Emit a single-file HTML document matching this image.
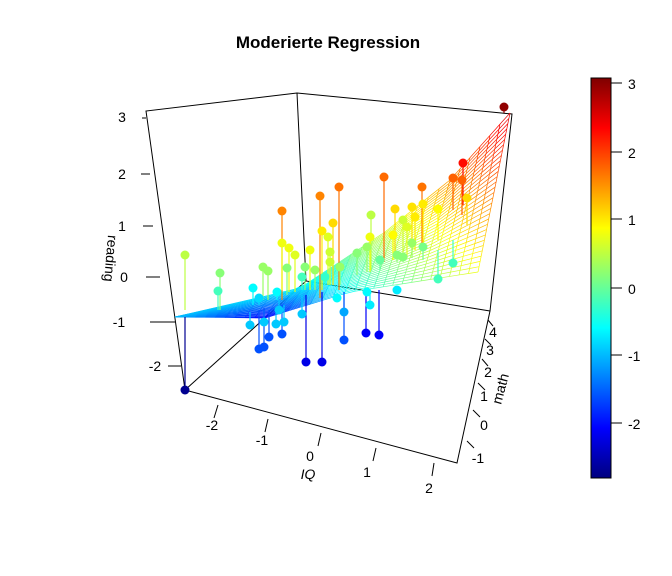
<!DOCTYPE html>
<html><head><meta charset="utf-8"><style>
body{margin:0;background:#fff;}
svg{display:block;font-family:"Liberation Sans",Arial,sans-serif;}
</style></head><body>
<svg id="s" width="672" height="576" viewBox="0 0 672 576" xmlns="http://www.w3.org/2000/svg">
<defs>
<linearGradient id="jet" x1="0" y1="1" x2="0" y2="0">
<stop offset="0" stop-color="#00007f"/>
<stop offset="0.125" stop-color="#0000ff"/>
<stop offset="0.375" stop-color="#00ffff"/>
<stop offset="0.5" stop-color="#7fff7f"/>
<stop offset="0.625" stop-color="#ffff00"/>
<stop offset="0.875" stop-color="#ff0000"/>
<stop offset="1" stop-color="#7f0000"/>
</linearGradient>
</defs>
<text x="328" y="48" font-size="17" font-weight="bold" text-anchor="middle">Moderierte Regression</text>
<g id="box" stroke="#000" stroke-width="1" fill="none">
<polyline points="185,390 146,111 297,93 512,114 490,311 457,463 185,390"/>
<polyline points="297,93 306,281 490,311"/>
<line x1="306" y1="281" x2="185" y2="390"/>
</g>
<g id="ticks" stroke="#000" stroke-width="1"></g>
<g id="surf" fill="none" stroke-width="0.7"></g>
<g id="pts"></g>
<g font-size="14" fill="#000">
<text x="122" y="122" text-anchor="middle">3</text>
<text x="122" y="179" text-anchor="middle">2</text>
<text x="122" y="231" text-anchor="middle">1</text>
<text x="124" y="282" text-anchor="middle">0</text>
<text x="119" y="327" text-anchor="middle">-1</text>
<text x="155" y="371" text-anchor="middle">-2</text>
<text x="106" y="258" transform="rotate(95 106 258)" text-anchor="middle" font-size="14">reading</text>
<text x="212" y="430" text-anchor="middle">-2</text>
<text x="262" y="445" text-anchor="middle">-1</text>
<text x="310" y="461" text-anchor="middle">0</text>
<text x="367" y="477" text-anchor="middle">1</text>
<text x="429" y="493" text-anchor="middle">2</text>
<text x="308" y="479" text-anchor="middle" font-style="italic">IQ</text>
<text x="493" y="337" text-anchor="middle">4</text>
<text x="490" y="355" text-anchor="middle">3</text>
<text x="488" y="377" text-anchor="middle">2</text>
<text x="484" y="401" text-anchor="middle">1</text>
<text x="484" y="430" text-anchor="middle">0</text>
<text x="478" y="463" text-anchor="middle">-1</text>
<text x="505" y="390" transform="rotate(-75 505 390)" text-anchor="middle">math</text>
</g>
<rect x="591" y="78" width="20" height="400" fill="url(#jet)" stroke="#000" stroke-width="1"/>
<g stroke="#000"><line x1="611" y1="83" x2="622" y2="83"/><line x1="611" y1="152" x2="622" y2="152"/><line x1="611" y1="219" x2="622" y2="219"/><line x1="611" y1="288" x2="622" y2="288"/><line x1="611" y1="355" x2="622" y2="355"/><line x1="611" y1="423" x2="622" y2="423"/></g>
<g font-size="14"><text x="628" y="89">3</text><text x="628" y="158">2</text><text x="628" y="225">1</text><text x="628" y="294">0</text><text x="628" y="361">-1</text><text x="628" y="429">-2</text></g>
</svg>
<script>
var NS="http://www.w3.org/2000/svg";
function jet(v){var t=(v+2.8)/5.9;t=Math.max(0,Math.min(1,t));
var r=Math.min(4*t-1.5,-4*t+4.5),g=Math.min(4*t-0.5,-4*t+3.5),b=Math.min(4*t+0.5,-4*t+2.5);
function c(x){return Math.round(255*Math.max(0,Math.min(1,x)));}
return "rgb("+c(r)+","+c(g)+","+c(b)+")";}
function el(p,n,a){var e=document.createElementNS(NS,n);for(var k in a)e.setAttribute(k,a[k]);document.getElementById(p).appendChild(e);return e;}
var rt=[[142,118,146,118],[141,174,150,174],[143,226,153,226],[146,277,160,277],[150,322,175,322],[168,366,181,366]];
rt.forEach(function(t){el("ticks","line",{x1:t[0],y1:t[1],x2:t[2],y2:t[3]});});
[[218,405,214,418],[268,419,265,432],[321,433,318,446],[376,448,373,461],[434,463,432,476]].forEach(function(t){el("ticks","line",{x1:t[0],y1:t[1],x2:t[2],y2:t[3]});});
[[488,320,493,326],[485,339,491,345],[482,359,488,366],[478,383,485,390],[473,410,480,417],[467,441,474,448]].forEach(function(t){el("ticks","line",{x1:t[0],y1:t[1],x2:t[2],y2:t[3]});});
var front=[[0,175,317,-1.0],[0.3,265,318,-2.1],[0.55,350,292,-0.5],[1,478,272,0.8]];
var back=[[0,175,317,-1.0],[0.35,300,288,-0.7],[0.6,385,232,0.6],[0.8,450,180,1.5],[1,510,113,2.6]];
function interp(k,u){for(var i=0;i<k.length-1;i++){if(u<=k[i+1][0]){var t=(u-k[i][0])/(k[i+1][0]-k[i][0]);return [k[i][1]+t*(k[i+1][1]-k[i][1]),k[i][2]+t*(k[i+1][2]-k[i][2]),k[i][3]+t*(k[i+1][3]-k[i][3])];}}var l=k[k.length-1];return [l[1],l[2],l[3]];}
function P(u,v){var f=interp(front,u),b=interp(back,u);return [f[0]+(b[0]-f[0])*v,f[1]+(b[1]-f[1])*v,f[2]+(b[2]-f[2])*v];}
var N=30;
for(var i=0;i<=N;i++){for(var j=0;j<N;j++){
var u=i/N,v0=j/N,v1=(j+1)/N,a=P(u,v0),b=P(u,v1);
el("surf","line",{x1:a[0],y1:a[1],x2:b[0],y2:b[1],stroke:jet((a[2]+b[2])/2)});
var a2=P(v0,u),b2=P(v1,u);
el("surf","line",{x1:a2[0],y1:a2[1],x2:b2[0],y2:b2[1],stroke:jet((a2[2]+b2[2])/2)});
}}
var pts=[[504,107,113,3.0],[463,163,205,2.3],[453,178,210,1.8],[462,180,215,1.8],[467,198,225,1.1],[384,177,262,1.75],[339,187,290,1.7],[320,196,298,1.6],[422,187,250,1.7],[282,211,300,1.6],
[333,223,285,1.1],[322,231,290,1.0],[395,209,255,1.1],[412,207,250,1.05],[423,204,245,1.0],[438,209,240,0.9],[415,217,250,1.0],[371,215,270,0.5],[403,220,255,0.6],[370,237,272,0.8],[393,235,260,0.9],[407,227,258,0.7],[328,237,285,0.7],[282,243,290,0.8],[289,248,292,0.8],[295,255,292,0.7],[310,250,290,0.8],[330,252,285,0.6],[330,262,285,0.6],
[185,255,310,0.5],[220,273,310,0.2],[263,267,300,0.3],[268,271,300,0.3],[287,268,295,0.2],[305,267,290,0.2],[315,270,290,0.3],[340,267,285,0.3],[218,291,310,-0.2],[253,288,305,-0.6],[277,292,300,-0.6],[302,277,290,-0.2],[325,277,285,-0.3],[337,298,298,-0.6],[367,292,292,-0.6],[397,290,290,-0.7],[370,305,292,-0.7],[438,279,250,-0.2],[453,263,240,-0.2],[423,247,260,0.1],[412,243,258,0.3],[397,255,262,0.2],[403,257,262,0.2],[380,260,270,0.0],[357,253,275,0.2],[367,247,272,0.3],
[259,298,305,-0.8],[279,310,300,-0.9],[302,314,295,-0.9],[344,312,292,-1.1],[250,325,312,-0.9],[264,322,310,-0.9],[276,324,308,-0.9],[284,322,305,-0.9],[269,337,310,-1.6],[282,334,305,-1.6],[259,349,310,-1.6],[264,347,308,-1.6],[344,340,292,-1.6],[366,333,290,-2.1],[379,335,290,-2.1],[306,362,295,-2.2],[322,362,292,-2.2],[185,390,317,-2.7]];
pts.forEach(function(p){var c=jet(p[3]);el("pts","line",{x1:p[0],y1:p[1],x2:p[0],y2:p[2],stroke:c,"stroke-width":1.2});});
pts.forEach(function(p){el("pts","circle",{cx:p[0],cy:p[1],r:4.5,fill:jet(p[3])});});
</script>
</body></html>
